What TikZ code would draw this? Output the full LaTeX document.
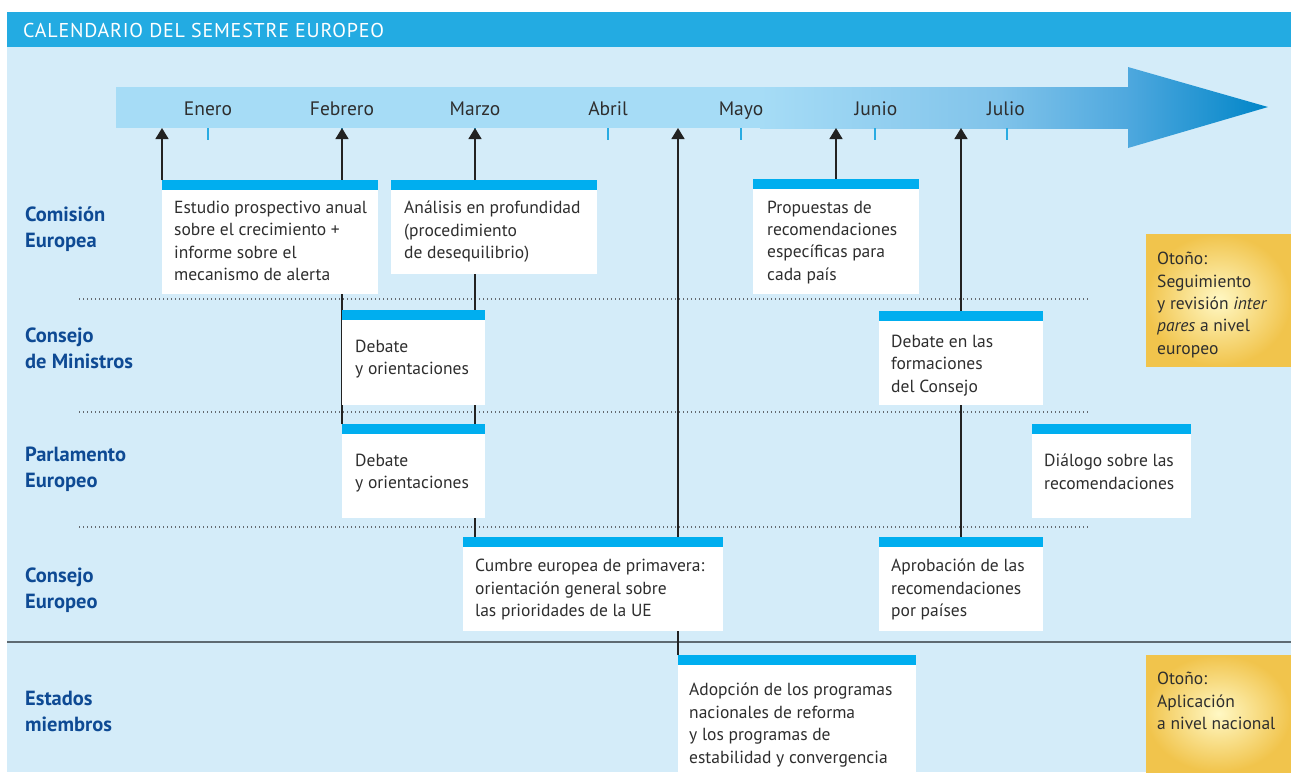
\documentclass[tikz,border=0pt]{standalone}
\usepackage{fontspec}
\setmainfont{PT Sans}
\usetikzlibrary{arrows.meta,positioning}

\definecolor{fondo}{HTML}{D4ECF9}
\definecolor{cabecera}{HTML}{23ABE2}
\definecolor{barra}{HTML}{00AEEF}
\definecolor{ejeclaro}{HTML}{A6DCF6}
\definecolor{ejemedio}{HTML}{80C3EA}
\definecolor{ejefuerte}{HTML}{4EA8DE}
\definecolor{ejeoscuro}{HTML}{0085C8}
\definecolor{azulrotulo}{HTML}{0E4A94}
\definecolor{textogris}{HTML}{2E2E2E}
\definecolor{orolight}{HTML}{FFF8C4}
\definecolor{oro}{HTML}{F1C44C}
\definecolor{marca}{HTML}{29ABE2}
\definecolor{negro}{HTML}{222222}
\definecolor{gris}{HTML}{646A70}
\definecolor{separador}{HTML}{5E6A72}

\pgfdeclarelayer{capafondo}
\pgfdeclarelayer{capalineas}
\pgfsetlayers{capafondo,capalineas,main}

\tikzset{
  caja/.style={anchor=north west, fill=white, inner sep=0pt, outer sep=0pt,
    path picture={\fill[barra] (path picture bounding box.north west)
      rectangle ([yshift=-10pt]path picture bounding box.north east);}},
  dorada/.style={anchor=north west, inner sep=0pt, outer sep=0pt,
    inner color=orolight, outer color=oro},
  texto/.style={anchor=north west, align=left, inner sep=0pt, text=textogris,
    font=\fontsize{17.5}{22.4}\selectfont},
  rotulo/.style={anchor=north west, align=left, inner sep=0pt, text=azulrotulo,
    font=\bfseries\fontsize{20.5}{26}\selectfont},
  mes/.style={anchor=base, inner sep=0pt, text=textogris, font=\fontsize{19.5}{20}\selectfont},
  flecha/.style={-{Triangle[width=13pt,length=11pt]}, line width=1.4pt, draw=negro},
  punteado/.style={draw=gris, line width=1.3pt, dash pattern=on 1.2pt off 2.8pt},
}

\begin{document}
\begin{tikzpicture}[x=1pt,y=-1pt]
\useasboundingbox (0,0) rectangle (1291,772);

% titulo
\node[anchor=base west, inner sep=0pt, text=white,
  font=\addfontfeatures{LetterSpace=4}\fontsize{20}{22}\selectfont] (titulo) at (23,37) {CALENDARIO DEL SEMESTRE EUROPEO};

% meses
\coordinate (eje) at (116,128);
\foreach \x/\mes in {208/Enero,342/Febrero,475/Marzo,608/Abril,741/Mayo,876/Junio,1006/Julio}
  \node[mes] (m-\mes) at (\x,115) {\mes};

% actores
\node[rotulo] (r-comision) at (25,207) {Comisión\\Europea};
\node[rotulo] (r-consejo) at (25,328) {Consejo\\de Ministros};
\node[rotulo] (r-parlamento) at (25,447) {Parlamento\\Europeo};
\node[rotulo] (r-europeo) at (25,568) {Consejo\\Europeo};
\node[rotulo] (r-estados) at (25,691) {Estados\\miembros};

% cajas
\node[caja, minimum width=216pt, minimum height=114pt] (estudio) at (162,180) {};
\node[texto, below right=21pt and 12pt of estudio.north west] (t-estudio)
  {Estudio prospectivo anual\\sobre el crecimiento +\\informe sobre el\\mecanismo de alerta};
\node[caja, minimum width=206pt, minimum height=94pt] (analisis) at (391,180) {};
\node[texto, below right=21pt and 13pt of analisis.north west] (t-analisis)
  {Análisis en profundidad\\(procedimiento\\de desequilibrio)};
\node[caja, minimum width=166pt, minimum height=115pt] (propuestas) at (753,179) {};
\node[texto, below right=21.5pt and 14pt of propuestas.north west] (t-propuestas)
  {Propuestas de\\recomendaciones\\específicas para\\cada país};

\node[caja, minimum width=143pt, minimum height=95pt] (debatecm) at (342,310) {};
\node[texto, below right=30pt and 13pt of debatecm.north west] (t-debatecm)
  {Debate\\y orientaciones};
\node[caja, minimum width=164pt, minimum height=94pt] (formaciones) at (879,311) {};
\node[texto, below right=24pt and 12pt of formaciones.north west] (t-formaciones)
  {Debate en las\\formaciones\\del Consejo};

\node[caja, minimum width=143pt, minimum height=94pt] (debatepe) at (342,424) {};
\node[texto, below right=30pt and 13pt of debatepe.north west] (t-debatepe)
  {Debate\\y orientaciones};
\node[caja, minimum width=159pt, minimum height=94pt] (dialogo) at (1032,424) {};
\node[texto, below right=30pt and 12pt of dialogo.north west] (t-dialogo)
  {Diálogo sobre las\\recomendaciones};

\node[caja, minimum width=260pt, minimum height=94pt] (cumbre) at (463,537) {};
\node[texto, below right=22pt and 12pt of cumbre.north west] (t-cumbre)
  {Cumbre europea de primavera:\\orientación general sobre\\las prioridades de la UE};
\node[caja, minimum width=164pt, minimum height=94pt] (aprobacion) at (879,537) {};
\node[texto, below right=22pt and 12pt of aprobacion.north west] (t-aprobacion)
  {Aprobación de las\\recomendaciones\\por países};

\node[caja, minimum width=238pt, minimum height=117pt] (adopcion) at (678,655) {};
\node[texto, below right=28pt and 11pt of adopcion.north west] (t-adopcion)
  {Adopción de los programas\\nacionales de reforma\\y los programas de\\estabilidad y convergencia};

% otono
\node[dorada, minimum width=145pt, minimum height=132pt] (otono1) at (1146,234) {};
\node[texto, below right=18pt and 11pt of otono1.north west] (t-otono1)
  {Otoño:\\Seguimiento\\y revisión \textit{inter}\\\textit{pares} a nivel\\europeo};
\node[dorada, minimum width=145pt, minimum height=117pt] (otono2) at (1146,655) {};
\node[texto, below right=17pt and 11pt of otono2.north west] (t-otono2)
  {Otoño:\\Aplicación\\a nivel nacional};

\begin{pgfonlayer}{capafondo}
  \fill[white] (0,0) rectangle (1291,772);
  \fill[fondo] (7,46) rectangle (1291,772);
  \fill[cabecera] (7,12) rectangle (1291,47);
  % eje del tiempo
  \fill[ejeclaro] (116,87) rectangle (761,128);
  \shade[left color=ejeclaro, right color=ejemedio] (760,87) rectangle (1001,128);
  \shade[left color=ejemedio, right color=ejefuerte] (1000,87) rectangle (1129,128);
  \shade[left color=ejefuerte, right color=ejeoscuro] (1128,67) -- (1268,107) -- (1128,148) -- cycle;
  \foreach \x in {208,342,475,608,741,875,1007}
    \draw[marca, line width=1.5pt] (\x,128) -- (\x,140);
\end{pgfonlayer}

\begin{pgfonlayer}{capalineas}
  \foreach \y in {299,412,527}
    \draw[punteado] (79,\y) -- (1090,\y);
  \draw[separador, line width=2pt] (7,642) -- (1291,642);
  \draw[flecha] (estudio.north west) -- (estudio.north west |- eje);
  \draw[flecha] (debatepe.north west) -- (debatepe.north west |- eje);
  \draw[flecha] ([xshift=12pt]cumbre.north west) -- ([xshift=12pt]cumbre.north west |- eje);
  \draw[flecha] (adopcion.north west) -- (adopcion.north west |- eje);
  \draw[flecha] (propuestas.north) -- (propuestas.north |- eje);
  \draw[flecha] (aprobacion.north) -- (aprobacion.north |- eje);
\end{pgfonlayer}
\end{tikzpicture}
\end{document}
